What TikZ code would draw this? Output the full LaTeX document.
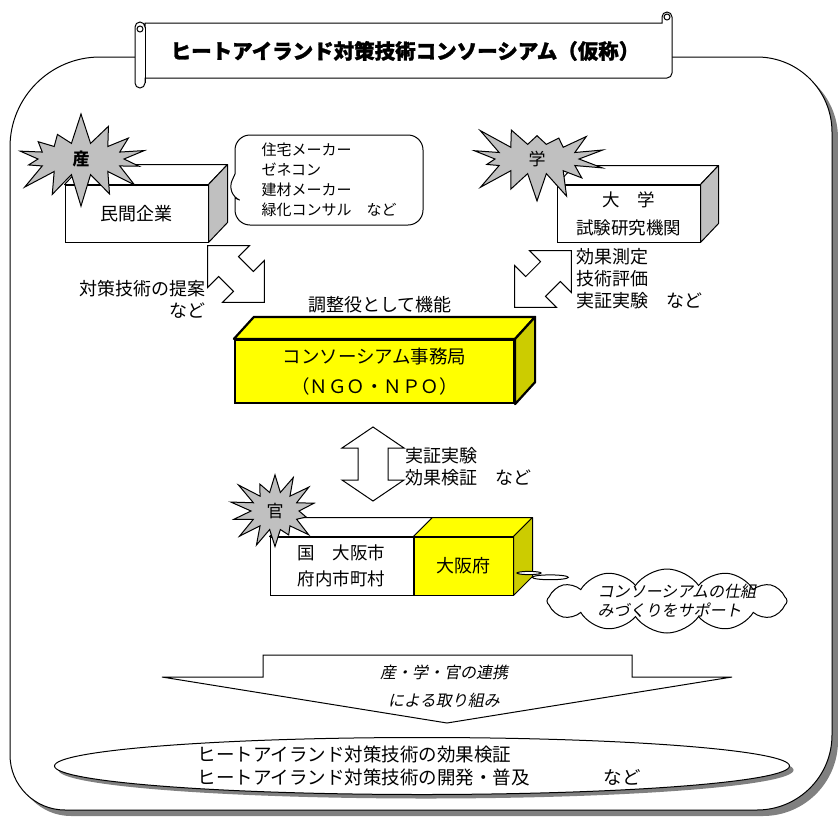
\documentclass[tikz,border=0pt]{standalone}
\usepackage{fontspec}
\setmainfont{Noto Sans CJK JP}
\newfontfamily\slantjp{Noto Sans CJK JP}[FakeSlant=0.2]
\newfontfamily\titlejp{Noto Sans CJK JP}[BoldFeatures={FakeBold=1.4}]
\usetikzlibrary{shapes.symbols,shapes.callouts,shapes.geometric,shadows}

\definecolor{boxyellow}{HTML}{FFFF00}
\definecolor{sideyellow}{HTML}{CCCC00}
\definecolor{sidegray}{HTML}{C0C0C0}
\definecolor{burstgray}{HTML}{C0C0C0}
\definecolor{shadowgray}{HTML}{808080}

\tikzset{
  boxfront/.style={draw, fill=white, inner sep=0pt, align=center, font=\fontsize{18}{27}\selectfont},
  yellowfront/.style={boxfront, fill=boxyellow},
  topface/.style={draw, fill=white, line join=round},
  sideface/.style={draw, fill=sidegray, line join=round},
  burst/.style={starburst, draw, fill=burstgray, starburst points=14, starburst point height=32pt, inner sep=0pt, font=\fontsize{17}{17}\selectfont},
  blockarrow/.style={draw, fill=white, line join=miter},
  txt/.style={inner sep=0pt, align=left, font=\fontsize{18}{22}\selectfont},
  slanttxt/.style={inner sep=0pt, align=left, font=\fontsize{16}{19}\slantjp},
}

\begin{document}
\begin{tikzpicture}[x=1pt, y=-1pt, line width=1pt]
  \useasboundingbox (0,0) rectangle (838,817);

  % Draw the outer frame with its shadow
  \draw[fill=white, drop shadow={shadow xshift=6pt, shadow yshift=-6pt, fill=shadowgray, opacity=1}]
    (100,57) -- (757,57) arc[start angle=-90, end angle=0, radius=75]
    -- (832,735) arc[start angle=0, end angle=90, radius=75]
    -- (65,810) arc[start angle=90, end angle=180, radius=55]
    -- (10,147) arc[start angle=180, end angle=270, radius=90] -- cycle;

  % Draw the title scroll
  \draw[fill=white] (135,27) -- (135,83) arc[start angle=180, end angle=0, radius=5]
    -- (145,78) -- (667,78) arc[start angle=90, end angle=0, radius=5]
    -- (672,17) arc[start angle=0, end angle=-180, radius=5]
    -- (662,23) -- (145,23) -- (145,27) arc[start angle=0, end angle=-180, radius=5] -- cycle;
  \draw (145,27) -- (145,83);
  \draw (140,29) circle[radius=3];
  \draw (667,17) circle[radius=3];
  \node[font=\fontsize{20.5}{20.5}\titlejp\bfseries] (title) at (405,51) {ヒートアイランド対策技術コンソーシアム（仮称）};

  % Draw the industry box
  \node[boxfront, minimum width=143pt, minimum height=57pt] (mink) at (136.5,213.5) {民間企業};
  \draw[topface] (mink.north west) -- ++(19,-20) -- ([shift={(19,-20)}]mink.north east) -- (mink.north east) -- cycle;
  \draw[sideface] (mink.north east) -- ++(19,-20) -- ([shift={(19,-20)}]mink.south east) -- (mink.south east) -- cycle;
  \node[burst, minimum width=150pt, minimum height=96pt, random starburst=7] (san) at (81,159) {\bfseries 産};

  % Label the industry members
  \node[rectangle callout, draw, fill=white, rounded corners=15pt, minimum width=188pt, minimum height=90pt,
    callout absolute pointer={(226,194)}, callout pointer width=24pt, inner sep=0pt, align=left,
    font=\fontsize{15}{20}\selectfont] (maker) at (329,180) {住宅メーカー\\ゼネコン\\建材メーカー\\緑化コンサル　など};

  % Draw the academia box
  \node[boxfront, minimum width=143pt, minimum height=57pt, font=\fontsize{17.5}{28}\selectfont] (daigaku) at (628.5,213.5) {大　学\\試験研究機関};
  \draw[topface] (daigaku.north west) -- ++(18,-19) -- ([shift={(18,-19)}]daigaku.north east) -- (daigaku.north east) -- cycle;
  \draw[sideface] (daigaku.north east) -- ++(18,-19) -- ([shift={(18,-19)}]daigaku.south east) -- (daigaku.south east) -- cycle;
  \node[burst, minimum width=148pt, minimum height=94pt, random starburst=23] (gaku) at (537,159) {学};

  % Draw the two-way arrows
  \begin{scope}[shift={(236,274)}, rotate=-45]
    \draw[blockarrow] (-40,0) -- (-10.5,-29.5) -- (-10.5,-14) -- (10.5,-14) -- (10.5,-29.5) -- (40,0)
      -- (10.5,29.5) -- (10.5,14) -- (-10.5,14) -- (-10.5,29.5) -- cycle;
  \end{scope}
  \begin{scope}[shift={(543,279)}, rotate=45]
    \draw[blockarrow] (-40,0) -- (-10.5,-29.5) -- (-10.5,-14) -- (10.5,-14) -- (10.5,-29.5) -- (40,0)
      -- (10.5,29.5) -- (10.5,14) -- (-10.5,14) -- (-10.5,29.5) -- cycle;
  \end{scope}
  \draw[blockarrow] (373,427) -- (404,448) -- (388,448) -- (388,480) -- (404,480) -- (373,501)
    -- (342,480) -- (358,480) -- (358,448) -- (342,448) -- cycle;

  % Label the arrows
  \node[txt, align=right, anchor=east] (teian) at (206,299) {対策技術の提案\\など};
  \node[txt, anchor=west] (sokutei) at (576,279) {効果測定\\技術評価\\実証実験　など};
  \node[txt] (chosei) at (380,305) {調整役として機能};
  \node[txt, anchor=west] (jissho) at (405,467) {実証実験\\効果検証　など};

  % Draw the secretariat box
  \node[yellowfront, line width=2.2pt, minimum width=279pt, minimum height=63pt, font=\fontsize{18.5}{30}\selectfont] (jimukyoku) at (374.5,371.5) {コンソーシアム事務局\\（ＮＧＯ・ＮＰＯ）};
  \draw[topface, fill=boxyellow, line width=2.2pt] (jimukyoku.north west) -- ++(20,-22) -- ([shift={(20,-22)}]jimukyoku.north east) -- (jimukyoku.north east) -- cycle;
  \draw[sideface, fill=sideyellow, line width=2.2pt] (jimukyoku.north east) -- ++(20,-22) -- ([shift={(20,-22)}]jimukyoku.south east) -- (jimukyoku.south east) -- cycle;

  % Draw the government boxes
  \node[boxfront, minimum width=143pt, minimum height=58pt, font=\fontsize{17.5}{26}\selectfont] (kuni) at (341.5,566) {国　大阪市\\府内市町村};
  \node[yellowfront, minimum width=99pt, minimum height=58pt, anchor=west] (osakafu) at (kuni.east) {大阪府};
  \draw[topface] (kuni.north west) -- ++(19,-19) -- ([shift={(19,-19)}]kuni.north east) -- (kuni.north east) -- cycle;
  \draw[topface, fill=boxyellow] (osakafu.north west) -- ++(19,-19) -- ([shift={(19,-19)}]osakafu.north east) -- (osakafu.north east) -- cycle;
  \draw[sideface, fill=sideyellow] (osakafu.north east) -- ++(19,-19) -- ([shift={(19,-19)}]osakafu.south east) -- (osakafu.south east) -- cycle;
  \node[burst, minimum width=100pt, minimum height=90pt, starburst point height=26pt, random starburst=41] (kan) at (275,511) {官};

  % Draw the support cloud
  \node[cloud callout, draw, fill=white, cloud puffs=12, cloud puff arc=110, cloud ignores aspect, inner sep=0pt,
    minimum width=240pt, minimum height=64pt, callout absolute pointer={(529,573)}] (kumo) at (667,601) {};
  \node[slanttxt, anchor=west] (sapoto) at (597,601) {コンソーシアムの仕組\\みづくりをサポート};

  % Draw the cooperation arrow
  \draw[blockarrow] (263,655) -- (632,655) -- (632,677) -- (732,677) -- (447,723) -- (162,677) -- (263,677) -- cycle;
  \node[slanttxt, align=center, font=\fontsize{16}{28}\slantjp] (renkei) at (444,686) {産・学・官の連携\\による取り組み};

  % Draw the outcome ellipse
  \node[ellipse, draw, fill=white, minimum width=735pt, minimum height=57pt,
    drop shadow={shadow xshift=4pt, shadow yshift=-4pt, fill=shadowgray, opacity=1}] (matome) at (422,766) {};
  \node[txt, anchor=west, font=\fontsize{18.5}{23}\selectfont] (kensho) at (197,766) {ヒートアイランド対策技術の効果検証\\ヒートアイランド対策技術の開発・普及};
  \node[txt, font=\fontsize{18.5}{23}\selectfont] (nado) at (622,777) {など};
\end{tikzpicture}
\end{document}
